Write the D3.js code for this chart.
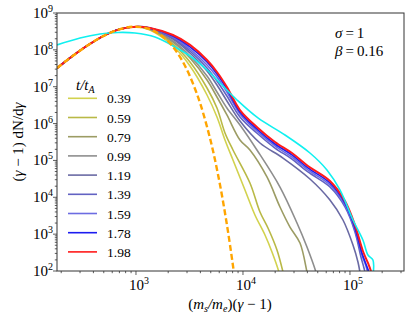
<!DOCTYPE html>
<html>
<head>
<meta charset="utf-8">
<script src="https://cdn.jsdelivr.net/npm/d3@7"></script>
<style>
  body { margin: 0; background: #fff; }
  svg text { font-family: "Liberation Serif", "Times New Roman", Times, "DejaVu Serif", serif; fill: #000; }
</style>
</head>
<body>
<svg id="chart"></svg>
<script>
const width = 415;
const height = 321;
const margin = {top: 13, right: 11, bottom: 50, left: 57};
const serif = '"Liberation Serif", "Times New Roman", Times, "DejaVu Serif", serif';

// legend labels (t / t_A) and their colours
const times = ['0.39', '0.59', '0.79', '0.99', '1.19', '1.39', '1.59', '1.78', '1.98'];
const colors = ['#d2d24e', '#b9b946', '#9c9c64', '#8e8e8e', '#6a6aa4', '#6262c2', '#6c6ce2', '#1c1cf0', '#ff1a1a'];

// rising part shared by all time snapshots
const rise = [[183, 3.2e7], [250, 6.5e7], [350, 1.3e8], [500, 2.4e8], [700, 3.6e8], [1000, 4.25e8]];

// high-energy tails, one per snapshot: [(ms/me)(gamma-1), (gamma-1)dN/dgamma]
const tail039 = [[1350, 3.46e8], [2218, 1.27e8], [3198, 3.65e7], [4613, 5.96e6], [5715, 1.51e6], [6792, 3.59e5], [8065, 1.03e5], [10440, 1.58e4], [12940, 3.31e3], [16060, 9.48e2], [18670, 3.28e2], [21680, 9.4e1], [22500, 6e1]];
const tail059 = [[1350, 3.57e8], [2218, 1.44e8], [3198, 4.69e7], [4613, 9.24e6], [5715, 2.65e6], [6792, 5.55e5], [8065, 1.92e5], [11620, 2.44e4], [14420, 3.99e3], [17130, 1.47e3], [20790, 3.72e2], [23660, 9.4e1], [24500, 6e1]];
const tail079 = [[1350, 3.68e8], [2218, 1.63e8], [3198, 6.01e7], [4613, 1.52e7], [5715, 5.26e6], [7079, 1.71e6], [9376, 3.59e5], [11620, 1.92e5], [16760, 3.56e4], [22180, 5.46e3], [27500, 1.56e3], [34120, 5.75e2], [39660, 9.4e1], [41000, 6e1]];
const tail099 = [[1350, 3.68e8], [2218, 1.74e8], [3198, 6.81e7], [4613, 1.95e7], [5715, 7.19e6], [7079, 2.65e6], [9376, 9.16e5], [13510, 1.92e5], [22180, 1.90e4], [31980, 2.01e3], [39660, 4.49e2], [48080, 9.4e1], [50000, 6e1]];
const tail119 = [[1350, 3.80e8], [2218, 1.97e8], [3198, 8.22e7], [4613, 2.67e7], [5715, 1.11e7], [7079, 4.10e6], [9376, 1.17e6], [14420, 2.97e5], [23660, 1.16e5], [42270, 3.14e4], [65010, 8.45e3], [86050, 2.42e3], [106700, 5.08e2], [118800, 1.76e2], [123900, 9.4e1], [126700, 6e1]];
const tail139 = [[1350, 3.80e8], [2218, 2.10e8], [3198, 9.31e7], [4613, 3.22e7], [5715, 1.43e7], [7079, 5.60e6], [9376, 1.51e6], [13800, 5.21e5], [19920, 2.17e5], [28700, 1.09e5], [40480, 4.86e4], [65010, 1.90e4], [89820, 5.46e3], [111400, 1.15e3], [126700, 2.40e2], [135200, 1.21e2], [141100, 7.3e1]];
const tail159 = [[1350, 3.92e8], [2218, 2.23e8], [3198, 1.05e8], [4613, 3.88e7], [5715, 1.84e7], [7079, 7.19e6], [9376, 1.82e6], [13800, 5.92e5], [19920, 2.47e5], [28700, 1.24e5], [40480, 5.51e4], [65010, 2.16e4], [89820, 6.18e3], [111400, 1.30e3], [129400, 2.72e2], [141100, 1.37e2], [147300, 8.3e1]];
const tail178 = [[1350, 3.92e8], [2218, 2.38e8], [3198, 1.20e8], [4613, 4.69e7], [5715, 2.21e7], [7079, 8.67e6], [9376, 2.06e6], [13800, 6.70e5], [19920, 2.79e5], [28700, 1.41e5], [40480, 6.24e4], [65010, 2.44e4], [89820, 7.00e3], [111400, 1.47e3], [129400, 3.08e2], [141100, 1.55e2], [150300, 9.4e1], [157000, 6e1]];
const tail198 = [[1350, 3.92e8], [2218, 2.53e8], [3198, 1.36e8], [4613, 5.31e7], [5715, 2.51e7], [7079, 9.83e6], [9376, 2.33e6], [13800, 7.59e5], [19920, 3.16e5], [28700, 1.59e5], [40480, 7.07e4], [65010, 2.77e4], [89820, 7.94e3], [111400, 1.77e3], [132100, 3.49e2], [147300, 1.65e2], [157000, 1.0e2], [164000, 5.7e1]];
const tails = [tail039, tail059, tail079, tail099, tail119, tail139, tail159, tail178, tail198];

// cyan reference spectrum and the orange dashed initial (thermal) spectrum
const cyanCurve = [[183, 1.36e8], [300, 2.10e8], [461, 2.69e8], [680, 2.96e8], [979, 2.86e8], [1505, 2.23e8], [2312, 1.20e8], [3198, 6.81e7], [4613, 2.84e7], [6095, 1.26e7], [8790, 4.37e6], [13800, 1.42e6], [24700, 4.90e5], [42270, 1.59e5], [60950, 5.51e4], [80640, 1.58e4], [106700, 2.42e3], [132100, 6.95e2], [147300, 2.72e2], [164000, 1.99e2], [164000, 7.3e1]];
const thermalTail = [[1400, 3.5e8], [2000, 1.7e8], [2500, 7.4e7], [3000, 2.85e7], [3500, 1.0e7], [4000, 3.4e6], [5000, 3.3e5], [6000, 2.8e4], [7000, 2.2e3], [8000, 1.65e2], [8500, 4.4e1]];

const xDomain = [182.7, 3.2e5];
const yDomain = [1e2, 1e9];
const xMajor = [1e3, 1e4, 1e5];
const yMajor = [1e2, 1e3, 1e4, 1e5, 1e6, 1e7, 1e8, 1e9];

const svg = d3.select('#chart')
    .attr('width', width)
    .attr('height', height)
    .attr('font-family', serif);

const x = d3.scaleLog().domain(xDomain).range([margin.left, width - margin.right]);
const y = d3.scaleLog().domain(yDomain).range([height - margin.bottom, margin.top]);

svg.append('clipPath').attr('id', 'plot-clip')
  .append('rect')
    .attr('x', margin.left).attr('y', margin.top)
    .attr('width', width - margin.left - margin.right)
    .attr('height', height - margin.top - margin.bottom);

const line = d3.line()
    .x(d => x(d[0]))
    .y(d => y(d[1]))
    .curve(d3.curveCatmullRom.alpha(0.5));

const curves = svg.append('g').attr('clip-path', 'url(#plot-clip)');

tails.forEach((t, i) => {
  curves.append('path')
    .attr('d', line(rise.concat(t)))
    .attr('fill', 'none')
    .attr('stroke', colors[i])
    .attr('stroke-width', i === tails.length - 1 ? 2 : 1.6);
});

curves.append('path')
  .attr('d', line(cyanCurve))
  .attr('fill', 'none')
  .attr('stroke', '#10f0f0')
  .attr('stroke-width', 1.6);

curves.append('path')
  .attr('d', line(rise.concat(thermalTail)))
  .attr('fill', 'none')
  .attr('stroke', '#ffa500')
  .attr('stroke-width', 2.4)
  .attr('stroke-dasharray', '6,3');

// frame
svg.append('rect')
  .attr('x', margin.left).attr('y', margin.top)
  .attr('width', width - margin.left - margin.right)
  .attr('height', height - margin.top - margin.bottom)
  .attr('fill', 'none')
  .attr('stroke', '#333')
  .attr('stroke-width', 1);

// ticks
const xMinor = [];
for (let e = 2; e < 6; e++) for (let k = 2; k < 10; k++) {
  const v = k * Math.pow(10, e);
  if (v > xDomain[0] && v < xDomain[1]) xMinor.push(v);
}
const yMinor = [];
for (let e = 2; e < 9; e++) for (let k = 2; k < 10; k++) yMinor.push(k * Math.pow(10, e));

const axisY0 = height - margin.bottom;
const ticks = svg.append('g').attr('stroke', '#333').attr('stroke-width', 0.8);
xMinor.forEach(v => {
  ticks.append('line').attr('x1', x(v)).attr('x2', x(v)).attr('y1', axisY0).attr('y2', axisY0 + 2.2);
});
xMajor.forEach(v => {
  ticks.append('line').attr('x1', x(v)).attr('x2', x(v)).attr('y1', axisY0).attr('y2', axisY0 + 4);
});
yMinor.forEach(v => {
  ticks.append('line').attr('x1', margin.left - 2.2).attr('x2', margin.left).attr('y1', y(v)).attr('y2', y(v));
});
yMajor.forEach(v => {
  ticks.append('line').attr('x1', margin.left - 4).attr('x2', margin.left).attr('y1', y(v)).attr('y2', y(v));
});

function powLabel(sel, v) {
  sel.append('tspan').text('10');
  sel.append('tspan').attr('font-size', 10).attr('dy', -6).text(Math.round(Math.log10(v)));
}

xMajor.forEach(v => {
  const t = svg.append('text')
    .attr('x', x(v) + 3).attr('y', axisY0 + 19)
    .attr('text-anchor', 'middle')
    .attr('font-size', 15);
  powLabel(t, v);
});
yMajor.forEach(v => {
  const t = svg.append('text')
    .attr('x', margin.left - 4).attr('y', y(v) + 5)
    .attr('text-anchor', 'end')
    .attr('font-size', 15);
  powLabel(t, v);
});

// axis titles
const xt = svg.append('text')
  .attr('x', 230).attr('y', 309)
  .attr('text-anchor', 'middle')
  .attr('font-size', 15);
xt.append('tspan').text('(');
xt.append('tspan').attr('font-style', 'italic').text('m');
xt.append('tspan').attr('font-style', 'italic').attr('font-size', 10).attr('dy', 3).text('s');
xt.append('tspan').attr('dy', -3).attr('font-style', 'italic').text('/m');
xt.append('tspan').attr('font-style', 'italic').attr('font-size', 10).attr('dy', 3).text('e');
xt.append('tspan').attr('dy', -3).text(')(');
xt.append('tspan').attr('font-style', 'italic').text('γ');
xt.append('tspan').text(' − 1)');

const yt = svg.append('text')
  .attr('transform', 'translate(23,142) rotate(-90)')
  .attr('text-anchor', 'middle')
  .attr('font-size', 15);
yt.append('tspan').text('(');
yt.append('tspan').attr('font-style', 'italic').text('γ');
yt.append('tspan').text(' − 1) dN/d');
yt.append('tspan').attr('font-style', 'italic').text('γ');

// parameters
const p1 = svg.append('text').attr('x', 335).attr('y', 38).attr('font-size', 15);
p1.append('tspan').attr('font-style', 'italic').text('σ');
p1.append('tspan').text('\u2009=\u20091');
const p2 = svg.append('text').attr('x', 335).attr('y', 56).attr('font-size', 15);
p2.append('tspan').attr('font-style', 'italic').text('β');
p2.append('tspan').text('\u2009=\u20090.16');

// legend
const legend = svg.append('g');
const lt = legend.append('text').attr('x', 76).attr('y', 90).attr('font-size', 15);
lt.append('tspan').attr('font-style', 'italic').text('t/t');
lt.append('tspan').attr('font-style', 'italic').attr('font-size', 10).attr('dy', 3).text('A');

times.forEach((label, i) => {
  const cy = 98.3 + i * 19.2;
  legend.append('line')
    .attr('x1', 68).attr('x2', 97)
    .attr('y1', cy).attr('y2', cy)
    .attr('stroke', colors[i])
    .attr('stroke-width', 1.6);
  legend.append('text')
    .attr('x', 107).attr('y', cy + 5)
    .attr('font-size', 13.5)
    .text(label);
});
</script>
</body>
</html>
